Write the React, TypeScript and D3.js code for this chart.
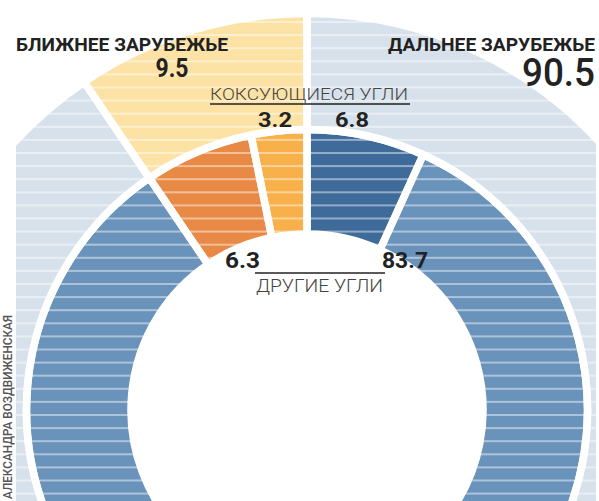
import React from "react";
import * as d3 from "d3";

const outerLabels = ["ДАЛЬНЕЕ ЗАРУБЕЖЬЕ", "БЛИЖНЕЕ ЗАРУБЕЖЬЕ"];
const outerValues = [90.5, 9.5];
const outerColors = ["#d7e1eb", "#fde2a5"];

const innerGroups = ["КОКСУЮЩИЕСЯ УГЛИ", "ДРУГИЕ УГЛИ", "ДРУГИЕ УГЛИ", "КОКСУЮЩИЕСЯ УГЛИ"];
const innerValues = [6.8, 83.7, 6.3, 3.2];
const innerColors = ["#3e6b9a", "#6a93bb", "#e88a45", "#f8b04a"];

const W = 599;
const H = 501;
const cx = 307;
const cy = 410;

export default function App() {
  const pie = d3
    .pie<number>()
    .sort(null)
    .value((d) => d)
    .startAngle(0)
    .endAngle(2 * Math.PI);

  const outerArcs = pie(outerValues);
  const innerArcs = pie(innerValues);

  const outerArc = d3.arc<d3.PieArcDatum<number>>().innerRadius(280.5).outerRadius(396.5);
  const innerArc = d3.arc<d3.PieArcDatum<number>>().innerRadius(176).outerRadius(280.5);

  const stripes = d3.range(-1, 38).map((k) => 21 + 13.1 * k);

  const font = "Roboto, 'DejaVu Sans', sans-serif";

  return (
    <svg
      width={W}
      height={H}
      style={{ position: "absolute", left: 0, top: 0, background: "#fff" }}
    >
      <defs>
        <clipPath id="clipArea">
          <rect x={16} y={0} width={580} height={H} />
        </clipPath>
      </defs>
      <g clipPath="url(#clipArea)">
        <g transform={`translate(${cx},${cy})`}>
          {outerArcs.map((a, i) => (
            <path key={"o" + i} d={outerArc(a) || ""} fill={outerColors[i]} />
          ))}
          {innerArcs.map((a, i) => (
            <path key={"i" + i} d={innerArc(a) || ""} fill={innerColors[i]} />
          ))}
        </g>
        {stripes.map((y, i) => (
          <rect key={"s" + i} x={0} y={y} width={W} height={2} fill="#fff" opacity={0.45} />
        ))}
        <g transform={`translate(${cx},${cy})`}>
          {outerArcs.map((a, i) => (
            <path key={"os" + i} d={outerArc(a) || ""} fill="none" stroke="#fff" strokeWidth={7.5} />
          ))}
          {innerArcs.map((a, i) => (
            <path key={"is" + i} d={innerArc(a) || ""} fill="none" stroke="#fff" strokeWidth={7.5} />
          ))}
        </g>
      </g>

      {/* outer labels */}
      <text x={16} y={51} fontFamily={font} fontWeight={700} fontSize={17.5} fill="#222" textLength={212} lengthAdjust="spacingAndGlyphs">
        {outerLabels[1]}
      </text>
      <text x={172} y={77} fontFamily={font} fontWeight={700} fontSize={26} fill="#222" textAnchor="middle" textLength={33} lengthAdjust="spacingAndGlyphs">
        {outerValues[1].toFixed(1)}
      </text>
      <text x={595} y={51} fontFamily={font} fontWeight={700} fontSize={17.5} fill="#222" textAnchor="end" textLength={207} lengthAdjust="spacingAndGlyphs">
        {outerLabels[0]}
      </text>
      <text x={595} y={86} fontFamily={font} fontWeight={500} fontSize={38} fill="#222" textAnchor="end" textLength={73} lengthAdjust="spacingAndGlyphs">
        {outerValues[0].toFixed(1)}
      </text>

      {/* coking coal */}
      <text x={210} y={100} fontFamily={font} fontWeight={300} fontSize={17} fill="#444" textLength={198} lengthAdjust="spacingAndGlyphs">
        {innerGroups[0]}
      </text>
      <line x1={210} x2={410} y1={104} y2={104} stroke="#222" strokeWidth={1.6} />
      <text x={275} y={127} fontFamily={font} fontWeight={700} fontSize={21} fill="#222" textAnchor="middle" textLength={34} lengthAdjust="spacingAndGlyphs">
        {innerValues[3].toFixed(1)}
      </text>
      <text x={352} y={127} fontFamily={font} fontWeight={700} fontSize={21} fill="#222" textAnchor="middle" textLength={34} lengthAdjust="spacingAndGlyphs">
        {innerValues[0].toFixed(1)}
      </text>

      {/* other coal */}
      <text x={242.5} y={268} fontFamily={font} fontWeight={700} fontSize={22} fill="#222" textAnchor="middle" textLength={35} lengthAdjust="spacingAndGlyphs">
        {innerValues[2].toFixed(1)}
      </text>
      <text x={405} y={268} fontFamily={font} fontWeight={700} fontSize={22} fill="#222" textAnchor="middle" textLength={46} lengthAdjust="spacingAndGlyphs">
        {innerValues[1].toFixed(1)}
      </text>
      <line x1={255} x2={385} y1={273} y2={273} stroke="#222" strokeWidth={1.6} />
      <text x={256} y={292} fontFamily={font} fontWeight={300} fontSize={19} fill="#444" textLength={127} lengthAdjust="spacingAndGlyphs">
        {innerGroups[1]}
      </text>

      {/* credit */}
      <text
        transform="translate(12,499) rotate(-90)"
        fontFamily={font}
        fontWeight={500}
        fontSize={12.5}
        fill="#555"
        textLength={184}
        lengthAdjust="spacingAndGlyphs"
      >
        АЛЕКСАНДРА ВОЗДВИЖЕНСКАЯ
      </text>
    </svg>
  );
}
